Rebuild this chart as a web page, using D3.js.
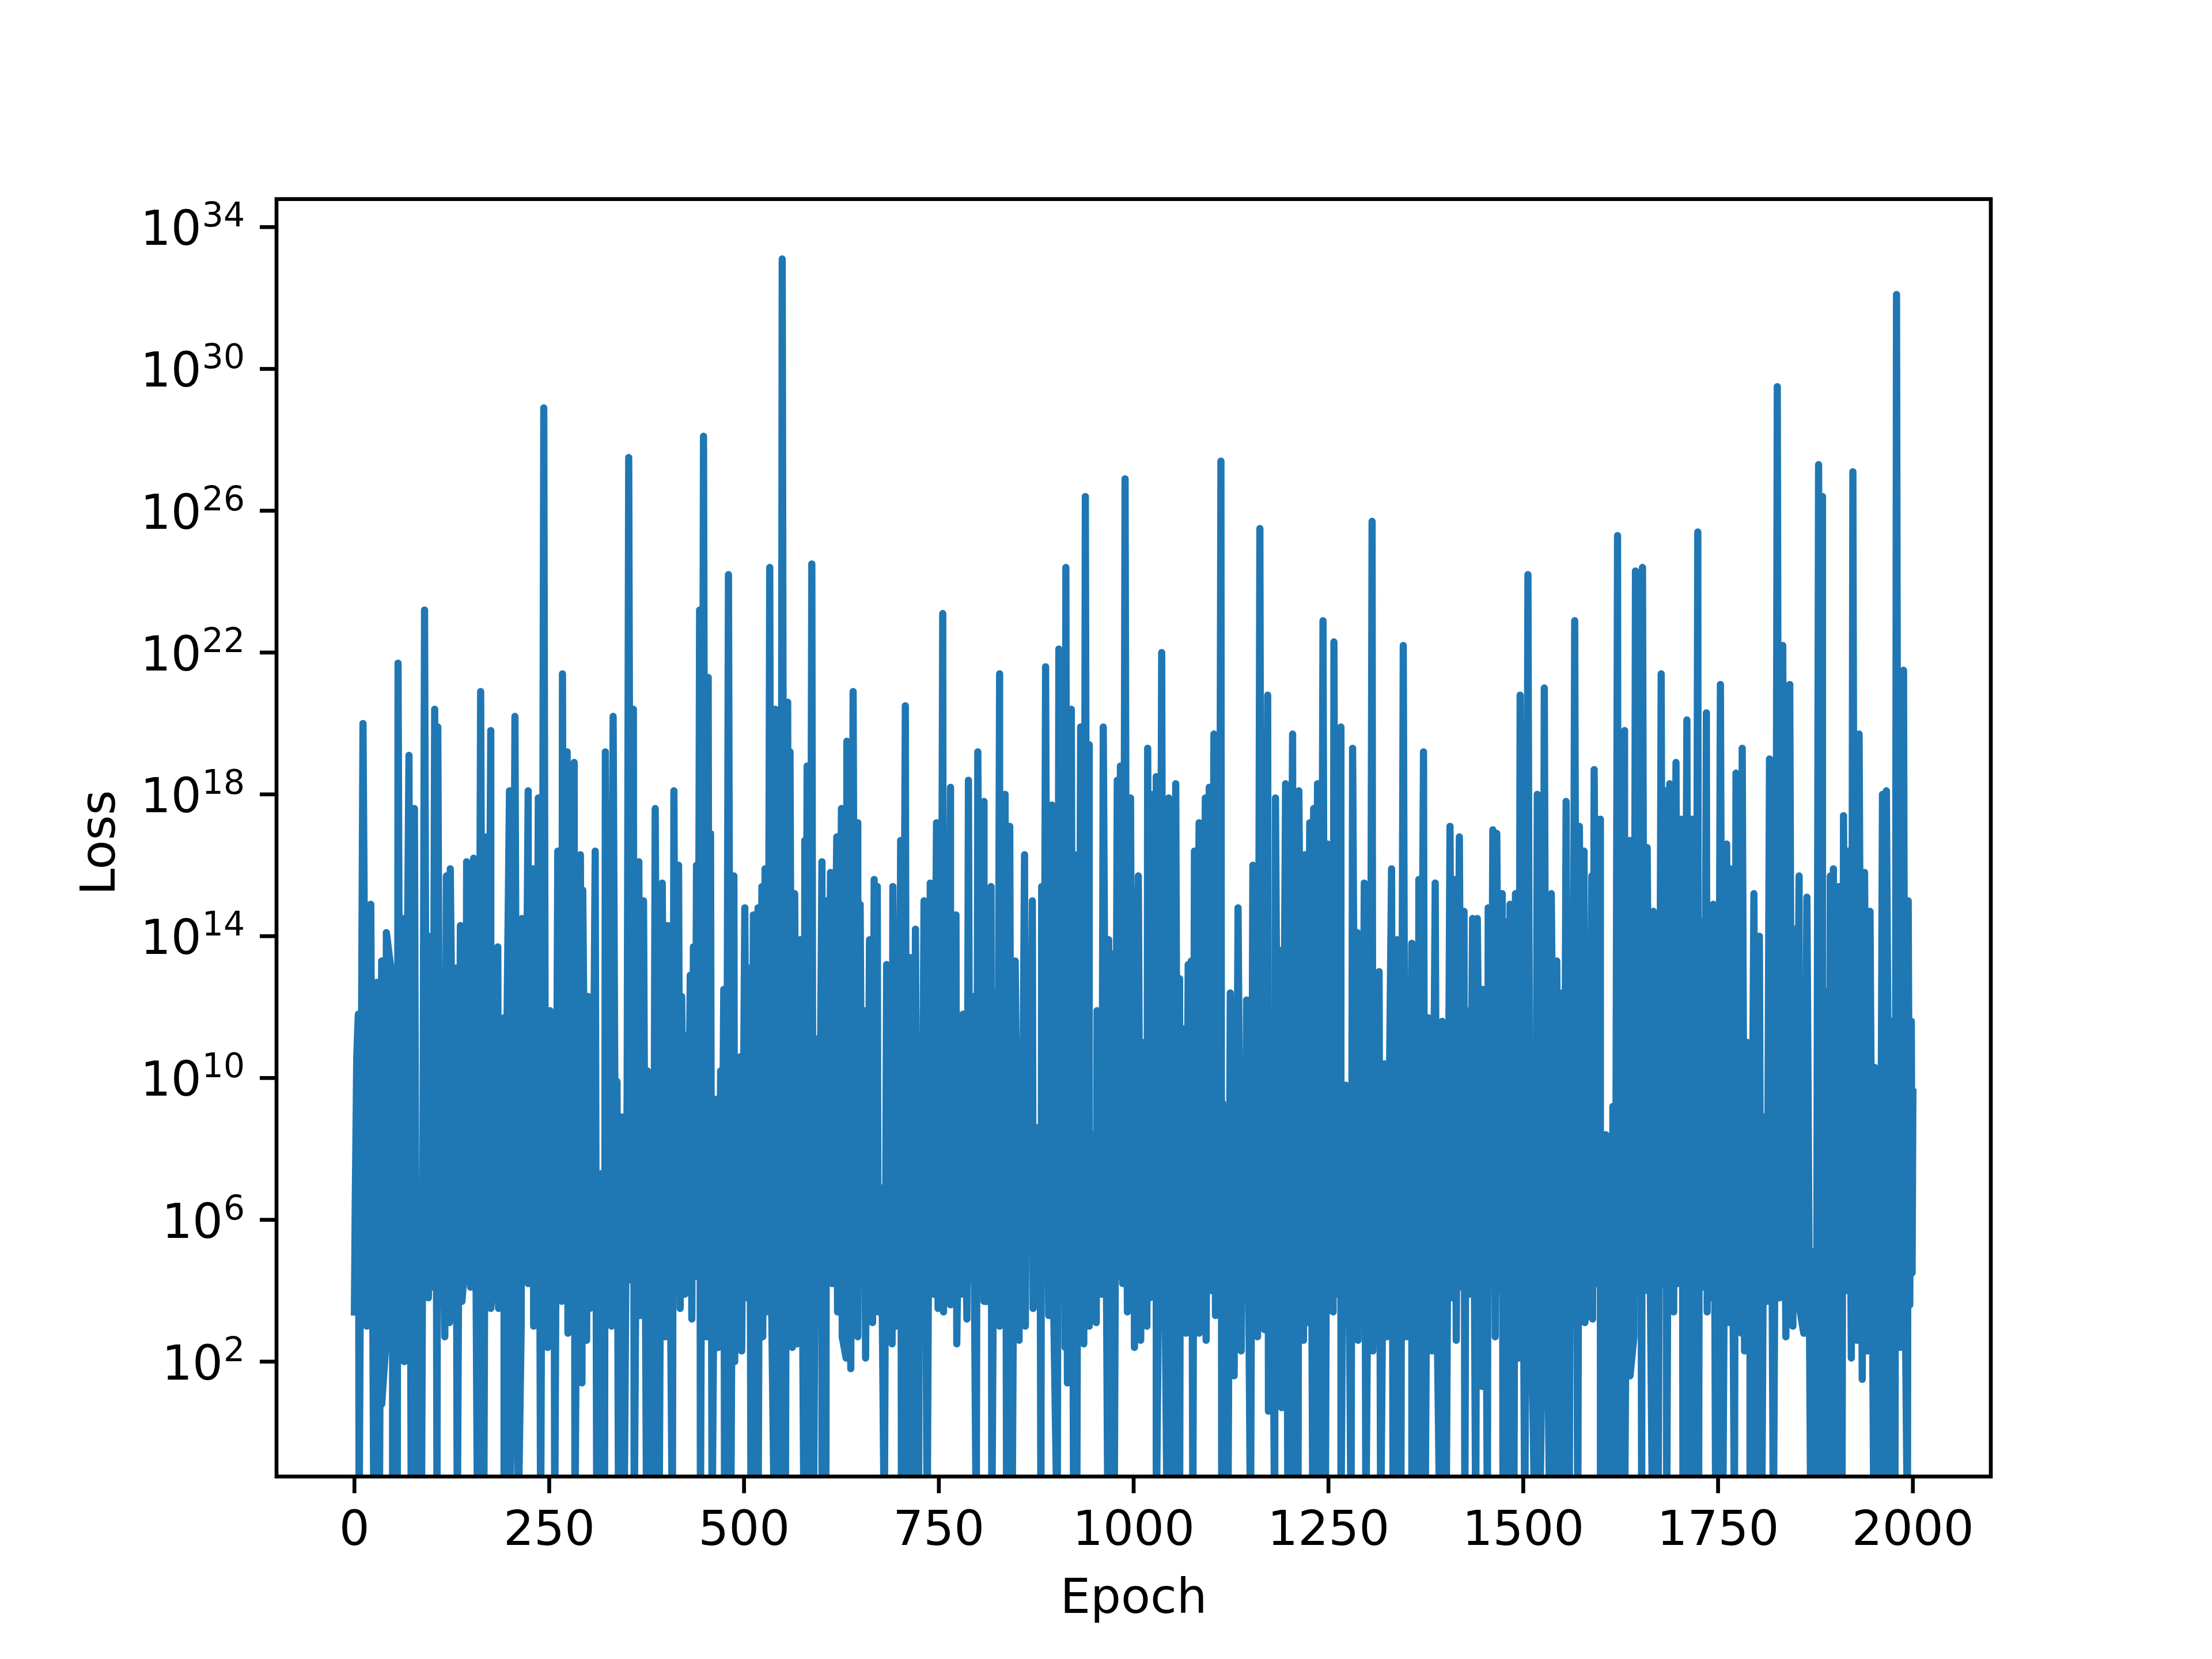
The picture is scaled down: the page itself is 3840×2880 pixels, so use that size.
<!DOCTYPE html>
<html>
<head>
<meta charset="utf-8">
<script src="https://cdn.jsdelivr.net/npm/d3@7"></script>
<style>
  html, body { margin: 0; background: #fff; }
  text { font-family: "DejaVu Sans"; fill: #000; }
</style>
</head>
<body>
<svg id="chart" width="3840" height="2880"></svg>
<script>
'use strict'

// upper tips of the curve (log10 of the loss)
const peakEpochs = [
  1,3,5,11,21,29,35,41,49,56,
  63,70,77,90,96,103,107,112,118,123,
  130,136,144,153,162,169,175,184,192,196,
  199,206,215,223,229,232,236,243,251,256,
  261,267,273,282,290,293,300,309,316,322,
  332,337,343,352,358,365,371,376,381,386,
  395,402,410,416,420,424,431,435,439,443,
  448,454,457,463,470,474,480,487,492,495,
  501,507,512,518,523,527,533,540,549,556,
  559,565,572,578,581,587,593,600,606,611,
  619,625,632,640,646,649,654,658,661,667,
  671,676,683,691,698,701,707,713,720,725,
  731,739,747,755,765,772,778,781,788,793,
  800,808,817,822,828,835,841,848,854,860,
  864,870,877,880,882,887,895,904,913,920,
  924,929,932,938,943,948,953,961,968,972,
  979,983,989,996,1000,1006,1013,1018,
  1025,1029,1036,1045,1054,1059,1062,1065,1070,1074,
  1078,1084,1092,1097,1103,1112,1118,1124,1130,1134,
  1141,1145,1153,1162,1165,1172,1177,1182,1188,1195,
  1204,1212,1220,1226,1231,1236,1243,1249,1257,1266,
  1272,1275,1281,1287,1290,1296,1306,1315,1322,1331,
  1338,1341,1346,1351,1357,1363,1366,1372,1378,1381,
  1387,1396,1400,1406,1412,1418,1424,1427,1435,1441,
  1448,1451,1455,1461,1466,1473,1478,1483,1490,1496,
  1506,1518,1527,
  1536,1543,1548,1550,1555,1561,1566,1572,1578,1588,
  1591,1599,1606,1610,1615,1621,1630,1637,1644,1653,
  1659,1667,1677,1683,1688,1696,1702,1704,1710,1716,
  1719,1724,1729,1735,1744,1753,1761,1766,1773,1781,
  1788,1791,1796,1803,1809,1816,1826,1833,1842,1848,
  1854,1864,1872,1879,1884,1888,1894,1898,1905,1911,
  1917,1923,1931,1938,1945,1951,1954,1961,1966,1973,
  1979,1988,1994,1998,2000
]
const peakExps = [
  6.3,10.6,11.8,20.0,14.9,12.7,13.3,14.1,12.7,21.7,
  14.5,19.1,17.6,23.2,14.0,20.4,19.9,10.6,15.7,15.9,
  13.1,14.3,16.1,16.2,20.9,16.8,19.8,13.7,11.7,11.9,
  18.1,20.2,14.5,18.1,15.9,15.7,17.9,28.9,11.9,11.3,
  16.4,21.4,19.2,18.9,16.3,15.3,12.3,16.4,7.3,19.2,
  20.2,9.9,8.9,27.5,20.4,16.1,15.0,10.2,4.8,17.6,
  15.5,14.3,18.1,16.0,12.3,11.2,12.9,13.7,16.0,23.2,
  28.1,21.3,16.9,9.4,10.2,12.5,24.2,15.7,9.5,10.6,
  14.8,13.1,14.6,14.8,15.4,15.9,24.4,20.4,33.1,20.6,
  19.2,15.2,13.9,16.7,18.8,24.5,11.1,16.1,15.0,15.8,
  16.8,17.6,19.5,20.9,17.2,14.9,11.9,10.7,13.9,15.6,
  15.4,6.9,13.2,15.4,11.3,16.7,20.5,13.4,14.2,7.6,
  15.0,15.5,17.2,23.1,18.2,14.6,11.1,11.8,18.4,12.3,
  19.2,17.8,15.4,12.4,21.4,18.0,17.1,13.3,10.4,16.3,
  13.2,15.0,8.6,6.3,15.4,21.6,17.7,22.1,24.4,20.4,
  16.3,14.2,19.9,26.4,19.4,8.4,11.9,19.9,13.9,13.5,
  18.4,18.8,26.9,17.9,15.3,15.7,11.0,19.3,
  18.0,18.5,22.0,17.9,18.3,12.8,11.4,6.7,13.2,13.3,
  16.4,17.2,17.9,18.2,19.7,27.4,8.9,12.4,10.9,14.8,
  10.2,12.2,16.0,25.5,17.4,20.8,9.8,17.9,13.6,18.3,
  19.7,18.1,16.3,17.2,17.6,18.3,22.9,16.6,22.3,19.9,
  9.8,9.5,19.3,14.1,12.3,15.5,25.7,13.0,10.4,15.9,
  13.9,12.7,22.2,10.6,13.8,12.3,15.6,19.2,11.7,10.5,
  15.5,11.6,11.4,17.1,15.6,16.8,14.7,11.9,14.5,14.5,
  12.5,10.3,14.8,17.0,16.9,15.2,14.4,14.9,15.2,20.8,
  24.2,18.0,21.0,
  15.2,13.3,12.0,12.4,17.8,14.9,22.9,17.1,16.4,15.7,
  18.7,17.3,8.4,7.8,9.2,25.3,19.8,16.7,24.3,24.4,
  16.5,14.7,21.4,18.1,18.3,18.9,17.3,12.5,20.1,17.3,
  15.1,25.4,14.4,20.3,14.9,21.1,16.6,15.9,18.6,19.3,
  11.0,5.3,15.2,14.0,8.9,19.0,29.5,22.2,21.1,14.2,
  15.7,15.1,5.1,27.3,26.4,12.45,15.7,15.9,15.4,17.4,
  16.4,27.1,19.7,15.8,14.7,10.3,6.5,18.0,18.1,11.6,
  32.1,21.5,15.0,11.6,9.6
]

// lower tips that stay inside the axes
const floorEpochs = [
  0,
  16,35,40,64,95,116,122,143,149,175,
  181,185,214,223,230,248,266,269,274,292,
  298,302,330,367,399,418,424,433,452,467,
  488,497,524,529,562,568,613,620,626,631,
  637,646,656,665,672,690,695,743,749,756,
  765,773,786,808,828,853,861,871,891,912,
  915,936,943,952,959,982,992,1001,1009,1017,
  1067,1084,1093,1100,1105,1129,1138,1159,1164,1168,
  1173,1190,1218,1223,1256,1288,1307,1325,1350,1383,
  1414,1447,1464,1494,
  1579,1589,1637,1642,1693,1698,1736,1764,1780,1784,
  1813,1829,1837,1846,1854,1860,1921,1928,1935,1942,
  1984,1996,1999
]
const floorExps = [
  3.4,
  3.0,0.8,2.4,2.0,3.8,2.7,3.1,5.2,4.1,3.5,
  5.0,3.5,3.0,4.2,3.0,2.4,3.7,4.5,2.8,1.4,
  2.6,3.5,3.0,3.3,2.7,3.5,3.9,3.2,2.7,2.4,
  2.0,2.3,2.7,3.4,2.4,2.5,4.2,3.4,2.7,2.1,
  1.8,2.7,2.1,3.1,3.4,2.5,3.0,3.9,3.5,3.4,
  3.6,2.5,3.2,3.7,3.0,2.6,3.0,3.5,3.3,2.4,
  1.4,2.5,3.0,3.1,3.9,4.4,3.4,2.4,2.6,3.0,
  2.8,2.8,2.6,4.0,3.3,1.6,2.3,2.7,5.0,2.9,
  0.6,0.7,2.6,3.1,3.4,2.6,2.3,2.7,2.7,2.3,
  2.6,1.3,2.7,2.1,
  3.1,3.2,1.6,2.7,3.4,4.2,3.4,3.1,2.8,2.3,
  3.7,3.8,2.7,3.0,3.6,2.8,2.1,2.6,1.5,2.3,
  2.4,3.6,4.5
]

// points inside the solid band, these can only be estimated
const midEpochs = [
  60,100,105,110,127,172,194,203,219,226,
  234,253,286,306,326,335,355,362,378,413,
  422,428,437,441,451,455,472,494,54,58,
  88,92,101,241,245,350,446,450,478,482,
  504,515,520,557,579,596,608,643,647,651,
  659,669,699,728,760,768,779,790,804,812,
  825,831,857,867,878,884,930,940,945,970,
  986,998,1003,531,535,551,585,638,642,753,
  757,826,830,885,889,906,911,987,991,1021,
  1027,1032,1039,1056,1060,1063,1072,1081,1088,1109,
  1115,1132,1143,1185,1233,1253,1262,1269,1273,1284,
  1293,1302,1311,1339,1354,1360,1369,1379,1398,1409,
  1421,1431,1449,1458,1470,1510,1034,1038,1110,1114,
  1160,1170,1174,1241,1245,1255,1259,1304,1308,1344,
  1348,1504,1508,1525,1529,1539,1545,1549,1563,1575,
  1584,1595,1603,1618,1626,1633,1648,1656,1663,1680,
  1703,1717,1721,1732,1740,1777,1789,1793,1851,1881,
  1886,1896,1914,1952,1564,1568,1619,1623,1646,1651,
  1655,1675,1679,1722,1726,1733,1737,1751,1755,1824,
  1828,1831,1835,1840,1844,1877,1925,1981,1986,1990,
  138,897,1389
]
const midExps = [
  7.2,4.1,8.1,3.9,7.5,8.3,6.1,4.2,6.6,8.0,
  7.1,6.3,8.4,7.0,6.7,5.9,4.3,7.4,4.2,4.0,
  7.8,6.2,4.4,7.3,9.0,7.6,6.5,7.9,8.8,9.4,
  8.2,9.1,7.0,9.3,8.7,9.6,9.2,9.8,8.4,8.9,
  3.8,7.4,8.2,8.8,7.1,4.1,7.9,8.5,6.9,7.3,
  6.2,7.7,6.4,4.2,4.0,7.2,3.9,4.3,4.0,3.7,
  4.1,8.3,6.8,7.5,5.5,7.2,8.4,7.6,6.3,7.1,
  4.2,7.4,6.7,9.1,4.4,9.7,8.8,9.2,8.3,8.9,
  9.4,8.6,9.3,8.1,9.0,4.0,9.5,9.2,8.4,3.8,
  6.9,4.2,7.4,6.6,7.8,5.8,7.0,8.2,6.7,9.1,
  8.8,6.5,4.0,7.1,8.3,4.3,3.9,7.2,4.1,7.5,
  4.0,9.0,4.2,7.1,6.3,7.4,8.0,6.9,7.2,3.8,
  4.1,3.9,6.2,4.2,4.0,3.9,9.2,4.2,9.6,9.3,
  8.9,9.0,7.5,9.1,8.4,8.8,9.3,9.4,8.9,9.0,
  8.3,8.6,9.2,4.0,8.2,7.0,6.7,7.4,8.3,7.6,
  3.9,4.2,7.0,8.0,8.6,7.3,9.0,4.0,4.3,7.9,
  6.8,7.4,8.1,4.1,3.8,7.2,4.6,4.8,7.0,8.3,
  6.9,7.5,4.0,5.5,9.1,8.6,8.9,9.4,9.0,8.5,
  9.2,8.7,4.2,9.0,8.6,8.9,8.2,8.8,9.1,9.5,
  9.0,8.4,8.8,8.6,9.2,8.1,9.0,9.6,9.1,4.1,
  3.7,4.0,4.1
]

// epochs where the curve drops out through the bottom of the axes
const dropEpochs = [
  6,25,32,49,55,73,80,86,106,132,158,166,192,199,210,239,257,283,311,321,
  339,346,359,375,383,391,408,444,459,475,483,
  509,518,539,547,553,577,583,589,600,605,680,702,709,717,724,735,798,818,
  837,844,881,902,923,927,967,975,
  1029,1043,1050,1059,1076,1113,1121,1150,1181,1198,1205,1211,1230,1238,1246,
  1266,1279,1298,1317,1333,1343,1357,1365,1374,1393,1401,1425,1439,1454,
  1474,1482,1488,1502,1515,1521,1534,1542,1551,1559,1570,
  1599,1607,1614,1622,1630,1652,1666,1673,1684,1705,1712,1719,1725,1747,1756,
  1771,1791,1799,1806,1821,1869,1876,1884,1892,1901,1909,1950,1957,1965,1972,
  1977,1993
]
const dropExp = -3

const xTicks = [0, 250, 500, 750, 1000, 1250, 1500, 1750, 2000]
const yTickExps = [2, 6, 10, 14, 18, 22, 26, 30, 34]

const width = 3840, height = 2880
const margins = {top: 345.6, right: 384, bottom: 316.8, left: 480}
const plotWidth = width - margins.left - margins.right
const plotHeight = height - margins.top - margins.bottom
const fontSize = 83.3
const tickLen = 29, tickWidth = 6.67, lineWidth = 12.5

// put the lists together in epoch order
const series = []
peakEpochs.forEach((e, i) => series.push({epoch: e, exp: peakExps[i]}))
floorEpochs.forEach((e, i) => series.push({epoch: e, exp: floorExps[i]}))
midEpochs.forEach((e, i) => series.push({epoch: e, exp: midExps[i]}))
dropEpochs.forEach((e) => series.push({epoch: e, exp: dropExp}))
series.sort((a, b) => d3.ascending(a.epoch, b.epoch))

const x = d3.scaleLinear().domain([-100, 2100]).range([0, plotWidth])
const y = d3.scaleLog().domain([Math.pow(10, -1.24), Math.pow(10, 34.79)]).range([plotHeight, 0])

const svg = d3.select('#chart')
const plot = svg.append('g').attr('transform', 'translate(' + margins.left + ',' + margins.top + ')')

svg.append('defs').append('clipPath').attr('id', 'plotClip')
  .append('rect').attr('width', plotWidth).attr('height', plotHeight)

const line = d3.line()
  .x((d) => x(d.epoch))
  .y((d) => y(Math.pow(10, d.exp)))

plot.append('path')
  .datum(series)
  .attr('clip-path', 'url(#plotClip)')
  .attr('d', line)
  .attr('fill', 'none')
  .attr('stroke', '#1f77b4')
  .attr('stroke-width', lineWidth)
  .attr('stroke-linejoin', 'round')
  .attr('stroke-linecap', 'square')

// x axis
const xAxis = plot.append('g')
  .attr('transform', 'translate(0,' + plotHeight + ')')
  .call(d3.axisBottom(x).tickValues(xTicks).tickFormat(d3.format('d')).tickSize(tickLen).tickPadding(29).offset(0))
xAxis.select('.domain').remove()
xAxis.selectAll('line').attr('stroke', '#000').attr('stroke-width', tickWidth)
xAxis.selectAll('text').attr('font-size', fontSize).attr('dy', '0.73em').style('font-family', '"DejaVu Sans"')

// y axis, the labels are 10 with a raised exponent
const yAxis = plot.append('g')
  .call(d3.axisLeft(y).tickValues(yTickExps.map((e) => Math.pow(10, e))).tickFormat('').tickSize(tickLen).offset(0))
yAxis.select('.domain').remove()
yAxis.selectAll('line').attr('stroke', '#000').attr('stroke-width', tickWidth)
yAxis.selectAll('text')
  .data(yTickExps)
  .attr('x', -55)
  .attr('y', 31)
  .attr('dy', 0)
  .attr('text-anchor', 'end')
  .attr('font-size', fontSize)
  .style('font-family', '"DejaVu Sans"')
  .each(function (e) {
    const label = d3.select(this)
    label.append('tspan').text('10')
    label.append('tspan').text(e).attr('dx', 1).attr('dy', -32).attr('font-size', fontSize * 0.7)
  })

// frame sits on top of the curve
plot.append('rect')
  .attr('width', plotWidth)
  .attr('height', plotHeight)
  .attr('fill', 'none')
  .attr('stroke', '#000')
  .attr('stroke-width', tickWidth)

svg.append('text')
  .attr('x', margins.left + plotWidth / 2)
  .attr('y', 2800)
  .attr('text-anchor', 'middle')
  .attr('font-size', fontSize)
  .text('Epoch')

svg.append('text')
  .attr('transform', 'translate(199,1463) rotate(-90)')
  .attr('text-anchor', 'middle')
  .attr('font-size', fontSize)
  .text('Loss')
</script>
</body>
</html>
